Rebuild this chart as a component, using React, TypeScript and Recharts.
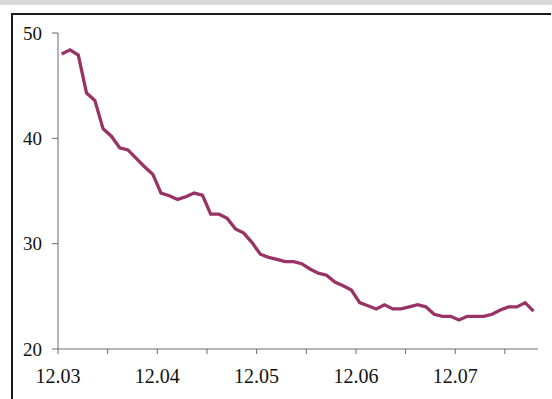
import React from "react";
import { LineChart, Line, XAxis, YAxis } from "recharts";

// monthly values, Dec 2003 .. Sep 2008
const values = [
  48.0, 48.4, 47.9, 44.3, 43.6, 40.9, 40.2, 39.1, 38.9, 38.1,
  37.3, 36.6, 34.8, 34.55, 34.2, 34.45, 34.8, 34.6, 32.8, 32.8,
  32.4, 31.4, 31.0, 30.1, 29.0, 28.7, 28.5, 28.3, 28.3, 28.1,
  27.6, 27.2, 27.0, 26.35, 26.0, 25.6, 24.4, 24.1, 23.8, 24.2,
  23.8, 23.8, 24.0, 24.2, 24.0, 23.3, 23.1, 23.1, 22.75, 23.1,
  23.1, 23.1, 23.3, 23.7, 24.0, 24.0, 24.4, 23.6,
];

const xTicks = [0, 6, 12, 18, 24, 30, 36, 42, 48, 54];
const xTickLabels = ["12.03", "", "12.04", "", "12.05", "", "12.06", "", "12.07", ""];
const yTicks = [20, 30, 40, 50];

const data = values.map((v, i) => ({ t: i + 0.45, v }));

const FONT = '"Liberation Serif", "Times New Roman", serif';
const AXIS = "#6b6b6b";

export default function App() {
  return (
    <div
      style={{
        position: "fixed",
        left: 0,
        top: 0,
        width: 552,
        height: 399,
        background: "#fff",
        overflow: "hidden",
      }}
    >
      <div
        style={{
          position: "absolute",
          left: 0,
          top: 0,
          width: 552,
          height: 5,
          background: "#d9d9d9",
        }}
      />
      <svg
        width={552}
        height={399}
        style={{ position: "absolute", left: 0, top: 0 }}
      >
        <path d="M12 399 V14 H551" fill="none" stroke="#1a1a1a" strokeWidth={2} />
      </svg>
      <div style={{ position: "absolute", left: 0, top: 0 }}>
        <LineChart
          width={552}
          height={399}
          data={data}
          margin={{ top: 33, right: 14, left: 0, bottom: 0 }}
        >
          <XAxis
            type="number"
            dataKey="t"
            domain={[0, 58]}
            ticks={xTicks}
            interval={0}
            height={50}
            stroke={AXIS}
            tickSize={5}
            tickMargin={15}
            tick={{ fontSize: 20, fill: "#111", fontFamily: FONT }}
            tickFormatter={(value) => xTickLabels[xTicks.indexOf(value)] ?? ""}
          />
          <YAxis
            type="number"
            domain={[20, 50]}
            ticks={yTicks}
            interval={0}
            width={58}
            stroke={AXIS}
            tickSize={6}
            tickMargin={10}
            tick={{ fontSize: 19, fill: "#111", fontFamily: FONT }}
          />
          <Line
            type="linear"
            dataKey="v"
            stroke="#993366"
            strokeWidth={3.3}
            dot={false}
            isAnimationActive={false}
          />
        </LineChart>
      </div>
    </div>
  );
}
